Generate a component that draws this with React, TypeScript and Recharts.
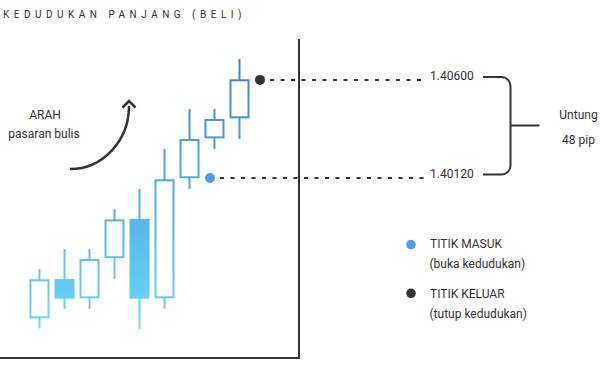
import React from 'react';
import { ComposedChart, Bar, XAxis, YAxis, ReferenceLine, ReferenceDot } from 'recharts';

// ---- data ----
const candleIndex = [0, 1, 2, 3, 4, 5, 6, 7, 8];
const openValues = [1.39434, 1.39626, 1.39532, 1.39728, 1.3992, 1.39532, 1.40119, 1.40314, 1.40412];
const highValues = [1.39675, 1.39773, 1.39773, 1.39969, 1.40067, 1.40262, 1.40458, 1.40458, 1.40702];
const lowValues = [1.39384, 1.3948, 1.3948, 1.39626, 1.39382, 1.3948, 1.40067, 1.40262, 1.40311];
const closeValues = [1.39625, 1.3953, 1.39724, 1.39918, 1.3953, 1.40114, 1.40311, 1.40409, 1.40603];

const entryPrice = 1.4012;
const exitPrice = 1.406;
const entryIndex = 6.8;
const exitIndex = 8.8;
const entryLineStart = 7.2;
const exitLineStart = 9.2;
const lineEnd = 15.44;

const priceLabels = ['1.40600', '1.40120'];
const profitLabels = ['Untung', '48 pip'];
const directionLabels = ['ARAH', 'pasaran bulis'];
const legendLabels = ['TITIK MASUK', '(buka kedudukan)', 'TITIK KELUAR', '(tutup kedudukan)'];
const titleText = 'KEDUDUKAN PANJANG (BELI)';

const xDomain = [-1.6, 10.36];
const yDomain = [1.3924, 1.408];

const data = candleIndex.map((i, k) => ({
  i,
  open: openValues[k],
  high: highValues[k],
  low: lowValues[k],
  close: closeValues[k],
  range: [lowValues[k], highValues[k]],
}));

const DARK = '#333333';
const ENTRY = '#4aa3df';
const FONT = 'Roboto, sans-serif';

const Candle = (props: any) => {
  const { x, y, width, height, payload } = props;
  const { open, close, high, low } = payload;
  const cx = x + width / 2;
  const yTop = Math.min(y, y + height);
  const yBot = Math.max(y, y + height);
  const toY = (v: number) => yTop + ((high - v) / (high - low)) * (yBot - yTop);
  const top = toY(Math.max(open, close));
  const bottom = toY(Math.min(open, close));
  const bullish = close >= open;
  return (
    <g>
      <line x1={cx} x2={cx} y1={yTop} y2={yBot} stroke="url(#candleGrad)" strokeWidth={2} />
      {bullish ? (
        <rect x={cx - 9} y={top + 1} width={18} height={bottom - top - 2} fill="#ffffff" stroke="url(#candleGrad)" strokeWidth={2} />
      ) : (
        <rect x={cx - 10} y={top} width={20} height={bottom - top} fill="url(#candleGrad)" />
      )}
    </g>
  );
};

const priceLabel = (text: string) => (p: any) => {
  const vb = p.viewBox || {};
  const x = (vb.x ?? 0) + (vb.width ?? 0) + 4;
  const y = vb.y ?? 0;
  return (
    <text x={x} y={y} fill={DARK} fontSize={12} fontFamily={FONT}>
      {text}
    </text>
  );
};

export default function App() {
  return (
    <div style={{ position: 'absolute', left: 0, top: 0, width: 600, height: 370, background: '#fff' }}>
      <ComposedChart width={600} height={370} data={data} margin={{ top: 39, right: 300, bottom: 11, left: 0 }}>
        <defs>
          <linearGradient id="candleGrad" gradientUnits="userSpaceOnUse" x1="0" y1="55" x2="0" y2="330">
            <stop offset="0" stopColor="#3783c6" />
            <stop offset="1" stopColor="#6cd9fc" />
          </linearGradient>
        </defs>
        <XAxis
          dataKey="i"
          type="number"
          domain={xDomain}
          allowDataOverflow
          tick={false}
          tickLine={false}
          height={1}
          axisLine={{ stroke: DARK, strokeWidth: 2, strokeLinecap: 'square' }}
        />
        <YAxis
          orientation="right"
          type="number"
          domain={yDomain}
          allowDataOverflow
          tick={false}
          tickLine={false}
          width={1}
          axisLine={{ stroke: DARK, strokeWidth: 2 }}
        />
        <Bar dataKey="range" barSize={20} shape={<Candle />} isAnimationActive={false} />
        <ReferenceLine
          segment={[{ x: exitLineStart, y: exitPrice }, { x: lineEnd, y: exitPrice }]}
          stroke={DARK}
          strokeWidth={2}
          strokeDasharray="4 6.5"
          ifOverflow="visible"
          label={priceLabel(priceLabels[0])}
        />
        <ReferenceLine
          segment={[{ x: entryLineStart, y: entryPrice }, { x: lineEnd, y: entryPrice }]}
          stroke={DARK}
          strokeWidth={2}
          strokeDasharray="4 6.5"
          ifOverflow="visible"
          label={priceLabel(priceLabels[1])}
        />
        <ReferenceDot x={entryIndex} y={entryPrice} r={5} fill={ENTRY} stroke="none" ifOverflow="visible" />
        <ReferenceDot x={exitIndex} y={exitPrice} r={5} fill={DARK} stroke="none" ifOverflow="visible" />
      </ComposedChart>
      <svg width={600} height={370} style={{ position: 'absolute', left: 0, top: 0, pointerEvents: 'none' }}>
        <text x={3} y={18.3} fontSize={10} letterSpacing={4.5} fill={DARK} fontFamily={FONT}>
          {titleText}
        </text>
        <text x={45} y={119} fontSize={12} textAnchor="middle" fill={DARK} fontFamily={FONT}>
          {directionLabels[0]}
        </text>
        <text x={44} y={138} fontSize={12} textAnchor="middle" fill={DARK} fontFamily={FONT}>
          {directionLabels[1]}
        </text>
        <path d="M70,169 A59,63 0 0 0 129,106" fill="none" stroke={DARK} strokeWidth={2.5} />
        <path d="M122.5,107.5 L129,101 L135.5,107.5" fill="none" stroke={DARK} strokeWidth={2.5} strokeLinejoin="miter" />
        <path
          d="M483,77 H501.5 A9,9 0 0 1 510.5,86 V165.5 A9,9 0 0 1 501.5,174.5 H483"
          fill="none"
          stroke={DARK}
          strokeWidth={2}
        />
        <path d="M510.5,125.5 H539.5" fill="none" stroke={DARK} strokeWidth={2} />
        <text x={578.5} y={118.5} fontSize={12} textAnchor="middle" fill={DARK} fontFamily={FONT}>
          {profitLabels[0]}
        </text>
        <text x={578.5} y={143.5} fontSize={12} textAnchor="middle" fill={DARK} fontFamily={FONT}>
          {profitLabels[1]}
        </text>
        <circle cx={411} cy={244.5} r={4.8} fill={ENTRY} />
        <text x={430} y={248.3} fontSize={12} fill={DARK} fontFamily={FONT}>
          {legendLabels[0]}
        </text>
        <text x={429.5} y={268} fontSize={12} fill={DARK} fontFamily={FONT}>
          {legendLabels[1]}
        </text>
        <circle cx={411} cy={293.3} r={4.8} fill={DARK} />
        <text x={430} y={298} fontSize={12} fill={DARK} fontFamily={FONT}>
          {legendLabels[2]}
        </text>
        <text x={429.5} y={318} fontSize={12} fill={DARK} fontFamily={FONT}>
          {legendLabels[3]}
        </text>
      </svg>
    </div>
  );
}
